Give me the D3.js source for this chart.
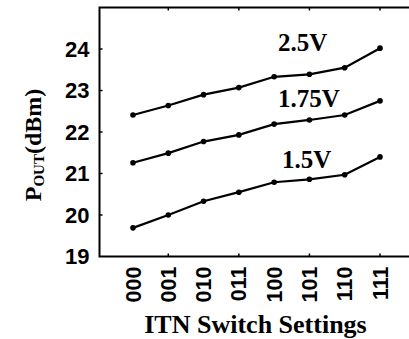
<!DOCTYPE html>
<html>
<head>
<meta charset="utf-8">
<script src="https://cdn.jsdelivr.net/npm/d3@7"></script>
<style>
  body { margin: 0; background: #fff; }
  svg { display: block; }
</style>
</head>
<body>
<svg id="chart" width="409" height="339"></svg>
<script>
"use strict";

// ITN switch settings on the x axis
var settings = ["000", "001", "010", "011", "100", "101", "110", "111"];

// Output power (dBm) per supply voltage
var pout_2v5  = [22.41, 22.64, 22.90, 23.07, 23.33, 23.39, 23.55, 24.02];
var pout_1v75 = [21.26, 21.49, 21.77, 21.93, 22.19, 22.29, 22.41, 22.75];
var pout_1v5  = [19.69, 20.00, 20.33, 20.55, 20.79, 20.86, 20.97, 21.40];

var series_labels = ["2.5V", "1.75V", "1.5V"];
var y_ticks = [19, 20, 21, 22, 23, 24];

var svg = d3.select("#chart");

// plot frame (right edge runs off the picture in the original)
var frame = { left: 99.5, top: 7.5, bottom: 256.5, right: 430 };

var x = d3.scaleLinear().domain([0, settings.length - 1]).range([133, 380]);
var y = d3.scaleLinear().domain([19, 25]).range([frame.bottom, frame.top]);

var sans = "'Liberation Sans', Arial, sans-serif";
var serif = "'Liberation Serif', 'Times New Roman', serif";

// frame
svg.append("rect")
    .attr("x", frame.left).attr("y", frame.top)
    .attr("width", frame.right - frame.left).attr("height", frame.bottom - frame.top)
    .attr("fill", "none").attr("stroke", "#000").attr("stroke-width", 2);

// y ticks + labels
var yAxis = svg.append("g");
yAxis.selectAll("line").data(y_ticks.slice(1)).enter().append("line")
    .attr("x1", frame.left).attr("x2", frame.left + 3)
    .attr("y1", function(d) { return y(d); })
    .attr("y2", function(d) { return y(d); })
    .attr("stroke", "#000").attr("stroke-width", 1.5);
yAxis.selectAll("text").data(y_ticks).enter().append("text")
    .attr("x", frame.left - 10)
    .attr("y", function(d) { return y(d); })
    .attr("dy", "0.36em")
    .attr("text-anchor", "end")
    .style("font-family", sans).style("font-weight", "bold").style("font-size", "22px")
    .text(function(d) { return d; });

// x ticks on top and bottom (every other setting, like the original)
var tick_idx = [1, 3, 5, 7];
[[frame.top, 3], [frame.bottom, -3]].forEach(function(edge) {
    svg.append("g").selectAll("line").data(tick_idx).enter().append("line")
        .attr("x1", function(d) { return x(d); })
        .attr("x2", function(d) { return x(d); })
        .attr("y1", edge[0]).attr("y2", edge[0] + edge[1])
        .attr("stroke", "#000").attr("stroke-width", 1.5);
});

// x tick labels, rotated
svg.append("g").selectAll("text").data(settings).enter().append("text")
    .attr("transform", function(d, i) {
        return "translate(" + (x(i) + 7.5) + "," + (frame.bottom + 10) + ") rotate(-90)";
    })
    .attr("text-anchor", "end")
    .style("font-family", sans).style("font-weight", "bold").style("font-size", "21.5px")
    .text(function(d) { return d; });

// lines
var line = d3.line()
    .x(function(d, i) { return x(i); })
    .y(function(d) { return y(d); });

[pout_2v5, pout_1v75, pout_1v5].forEach(function(vals) {
    svg.append("path").datum(vals)
        .attr("d", line)
        .attr("fill", "none").attr("stroke", "#000").attr("stroke-width", 2.2);
    svg.append("g").selectAll("circle").data(vals).enter().append("circle")
        .attr("cx", function(d, i) { return x(i); })
        .attr("cy", function(d) { return y(d); })
        .attr("r", 2.8).attr("fill", "#000");
});

// series labels (left edge in px, baseline in dBm)
var label_pos = [[278, 23.95], [278, 22.60], [282, 21.13]];
svg.append("g").selectAll("text").data(series_labels).enter().append("text")
    .attr("x", function(d, i) { return label_pos[i][0]; })
    .attr("y", function(d, i) { return y(label_pos[i][1]); })
    .style("font-family", serif).style("font-weight", "bold").style("font-size", "25px")
    .text(function(d) { return d; });

// axis titles
var ytitle = svg.append("text")
    .attr("transform", "translate(41,145) rotate(-90)")
    .attr("text-anchor", "middle")
    .style("font-family", serif).style("font-weight", "bold").style("font-size", "24px");
ytitle.append("tspan").text("P");
ytitle.append("tspan").attr("dy", 3).style("font-size", "15px").text("OUT");
ytitle.append("tspan").attr("dy", -3).text("(dBm)");

svg.append("text")
    .attr("x", 255.5).attr("y", 333)
    .attr("text-anchor", "middle")
    .style("font-family", serif).style("font-weight", "bold").style("font-size", "26px")
    .text("ITN Switch Settings");
</script>
</body>
</html>
